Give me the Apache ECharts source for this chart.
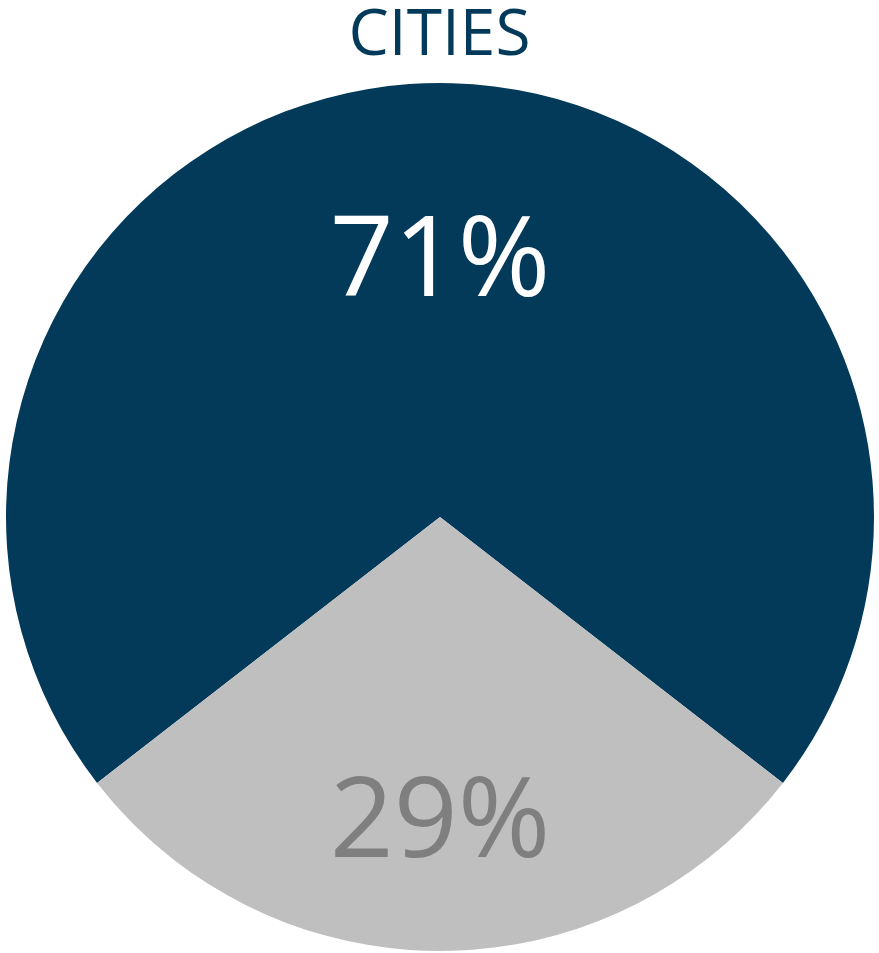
<!DOCTYPE html>
<html>
<head>
<meta charset="utf-8">
<script src="https://cdn.jsdelivr.net/npm/echarts@6/dist/echarts.min.js"></script>
<style>
html,body{margin:0;padding:0;background:#fff;}
#c{width:879px;height:953px;}
</style>
</head>
<body>
<div id="c"></div>
<script>
const titleText = 'CITIES';
const categories = ['Cities', 'Other'];
const values = [71, 29];
const sliceColors = ['#033a5a', '#bfbfbf'];
const labelColors = ['#ffffff', '#7f7f7f'];
const labelOffsets = [[0, -33], [0, 88]];

const chart = echarts.init(document.getElementById('c'), null, {renderer: 'canvas'});
chart.setOption({
  animation: false,
  title: {
    text: titleText,
    left: 'center',
    top: 0,
    textStyle: {
      fontFamily: 'Open Sans',
      fontWeight: 'normal',
      fontSize: 64,
      lineHeight: 64,
      color: '#033a5a'
    }
  },
  series: [{
    type: 'pie',
    center: [440, 517],
    radius: 434,
    startAngle: 217.8,
    clockwise: true,
    silent: true,
    label: {
      show: true,
      position: 'inside',
      fontFamily: 'Open Sans',
      fontSize: 112,
      formatter: p => p.value + '%'
    },
    labelLine: {show: false},
    itemStyle: {borderWidth: 0},
    data: categories.map((c, i) => ({
      name: c,
      value: values[i],
      itemStyle: {color: sliceColors[i]},
      label: {color: labelColors[i], offset: labelOffsets[i]}
    }))
  }]
});
</script>
</body>
</html>
